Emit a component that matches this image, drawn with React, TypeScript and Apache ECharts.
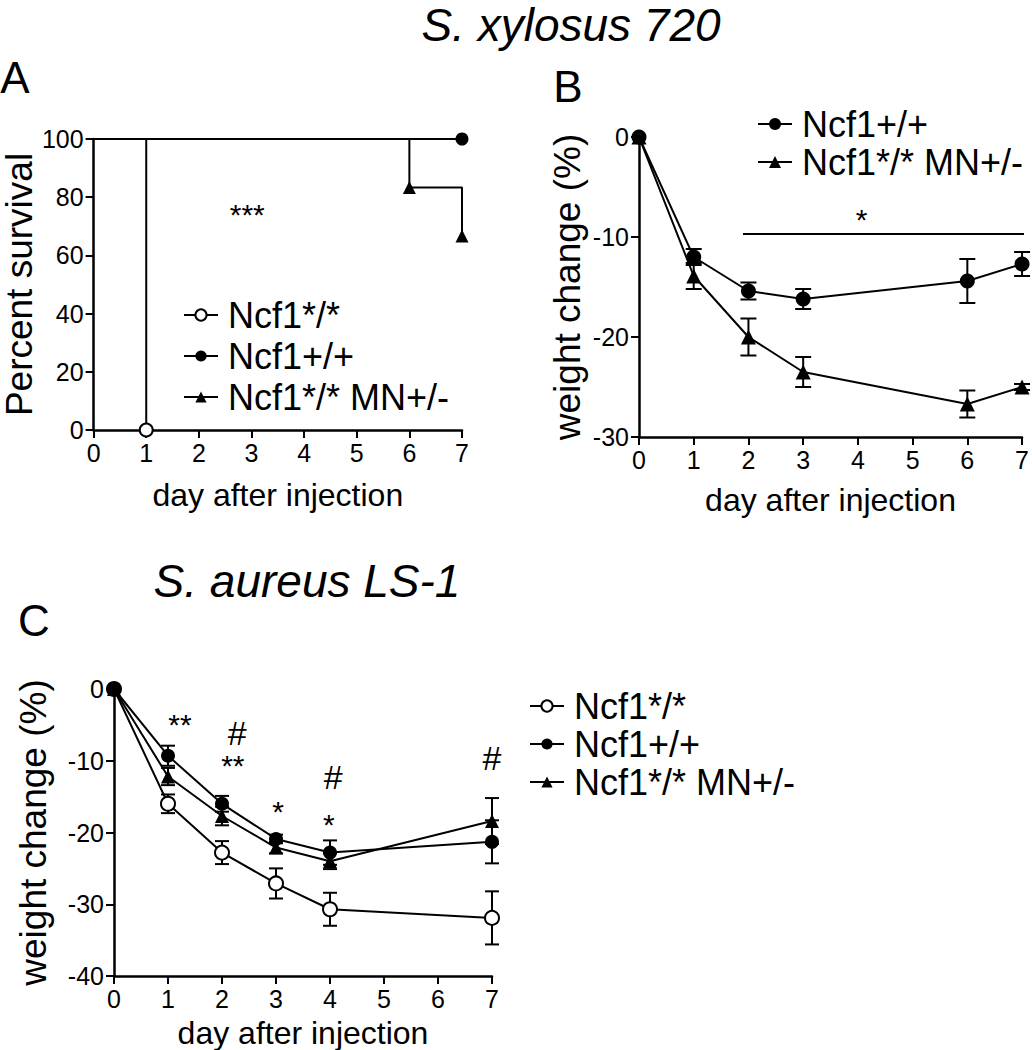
import React, { useEffect, useRef } from 'react';
import * as echarts from 'echarts';

const FONT = '"Liberation Sans", Arial, Helvetica, sans-serif';

// ---------- Panel A: survival (S. xylosus 720) ----------
const A_KO_DAYS = [0, 1];
const A_KO_SURV = [100, 0];
const A_WT_DAYS = [0, 7];
const A_WT_SURV = [100, 100];
const A_MN_DAYS = [0, 6, 7];
const A_MN_SURV = [100, 83.3, 66.7];
const A_Y_TICKS = { min: 0, max: 100, interval: 20 };
const A_ANNOT = [{ x: 2.92, y: 76.3, text: '***' }];

// ---------- Panel B: weight change (S. xylosus 720) ----------
const B_DAYS = [0, 1, 2, 3, 6, 7];
const B_WT_MEAN = [0, -12.0, -15.4, -16.2, -14.4, -12.7];
const B_WT_SEM = [0, 0.8, 0.85, 1.0, 2.2, 1.2];
const B_MN_MEAN = [0, -13.9, -20.0, -23.5, -26.7, -25.0];
const B_MN_SEM = [0, 1.3, 1.85, 1.5, 1.35, 0.3];
const B_SIG_X = [1.9, 7.05];
const B_SIG_Y = -9.7;
const B_ANNOT = [{ x: 4.07, y: -7.6, text: '*' }];
const B_Y_TICKS = { min: -30, max: 0, interval: 10 };

// ---------- Panel C: weight change (S. aureus LS-1) ----------
const C_DAYS = [0, 1, 2, 3, 4, 7];
const C_KO_MEAN = [0, -16.0, -22.8, -27.1, -30.7, -31.9];
const C_KO_SEM = [0, 1.3, 1.6, 2.1, 2.3, 3.7];
const C_WT_MEAN = [0, -9.3, -16.0, -20.9, -22.8, -21.3];
const C_WT_SEM = [0, 1.4, 1.1, 0.6, 1.7, 3.0];
const C_MN_MEAN = [0, -12.2, -17.7, -22.1, -24.0, -18.4];
const C_MN_SEM = [0, 1.2, 1.3, 0.8, 1.1, 3.2];
const C_Y_TICKS = { min: -40, max: 0, interval: 10 };
const C_ANNOT = [
  { x: 1.22, y: -4.0, text: '**' },
  { x: 2.28, y: -6.1, text: '#' },
  { x: 2.2, y: -9.8, text: '**' },
  { x: 3.04, y: -16.1, text: '*' },
  { x: 4.06, y: -12.2, text: '#' },
  { x: 3.98, y: -17.9, text: '*' },
  { x: 7.0, y: -9.6, text: '#' },
];

const X_TICKS = { min: 0, max: 7, interval: 1 };

const NAME_KO = 'Ncf1*/*';
const NAME_WT = 'Ncf1+/+';
const NAME_MN = 'Ncf1*/* MN+/-';

const BLACK = '#000';

function xAxis(gridIndex: number, nameGap: number) {
  return {
    type: 'value',
    gridIndex,
    ...X_TICKS,
    name: 'day after injection',
    nameLocation: 'middle',
    nameGap,
    nameTextStyle: { color: BLACK, fontSize: 32, fontFamily: FONT },
    axisLine: { show: true, onZero: false, lineStyle: { color: BLACK, width: 2.5 } },
    axisTick: { show: true, length: 8, lineStyle: { color: BLACK, width: 2 } },
    axisLabel: { color: BLACK, fontSize: 25, fontFamily: FONT, margin: 10, showMinLabel: true, showMaxLabel: true },
    splitLine: { show: false },
  };
}

function yAxis(gridIndex: number, ticks: any, name: string, nameGap: number) {
  return {
    type: 'value',
    gridIndex,
    ...ticks,
    name,
    nameLocation: 'middle',
    nameGap,
    nameTextStyle: { color: BLACK, fontSize: 37, fontFamily: FONT },
    axisLine: { show: true, onZero: false, lineStyle: { color: BLACK, width: 2.5 } },
    axisTick: { show: true, length: 8, lineStyle: { color: BLACK, width: 2 } },
    axisLabel: { color: BLACK, fontSize: 25, fontFamily: FONT, margin: 10, showMinLabel: true, showMaxLabel: true },
    splitLine: { show: false },
  };
}

function errorBars(axisIndex: number, days: number[], mean: number[], sem: number[], capW: number) {
  return {
    type: 'custom',
    name: '_err',
    xAxisIndex: axisIndex,
    yAxisIndex: axisIndex,
    z: 2,
    silent: true,
    encode: { x: 0, y: 1 },
    data: days.map((d, i) => [d, mean[i], sem[i]]),
    renderItem: (params: any, api: any) => {
      const x = api.value(0);
      const m = api.value(1);
      const s = api.value(2);
      if (!s) return null;
      const top = api.coord([x, m + s]);
      const bot = api.coord([x, m - s]);
      const w = capW / 2;
      const st = { stroke: BLACK, lineWidth: 2 };
      return {
        type: 'group',
        children: [
          { type: 'line', shape: { x1: top[0], y1: top[1], x2: bot[0], y2: bot[1] }, style: st },
          { type: 'line', shape: { x1: top[0] - w, y1: top[1], x2: top[0] + w, y2: top[1] }, style: st },
          { type: 'line', shape: { x1: bot[0] - w, y1: bot[1], x2: bot[0] + w, y2: bot[1] }, style: st },
        ],
      };
    },
  };
}

function annotations(axisIndex: number, list: { x: number; y: number; text: string }[], starSize: number, hashSize: number) {
  return {
    type: 'custom',
    name: '_annot',
    xAxisIndex: axisIndex,
    yAxisIndex: axisIndex,
    z: 5,
    silent: true,
    clip: false,
    encode: { x: 0, y: 1 },
    data: list.map((a) => [a.x, a.y]),
    renderItem: (params: any, api: any) => {
      const a = list[params.dataIndex];
      const p = api.coord([api.value(0), api.value(1)]);
      const isStar = a.text.indexOf('*') >= 0;
      const fontSize = isStar ? starSize : hashSize;
      return {
        type: 'text',
        x: p[0],
        y: p[1] + (isStar ? fontSize * 0.22 : 0),
        style: {
          text: a.text,
          fontSize,
          fontFamily: FONT,
          fill: BLACK,
          align: 'center',
          verticalAlign: 'middle',
        },
      };
    },
  };
}

function meanLine(name: string, axisIndex: number, days: number[], mean: number[], symbol: string, size: number, open: boolean) {
  return {
    type: 'line',
    name,
    xAxisIndex: axisIndex,
    yAxisIndex: axisIndex,
    z: 3,
    clip: false,
    data: days.map((d, i) => [d, mean[i]]),
    symbol,
    symbolSize: size,
    showSymbol: true,
    showAllSymbol: true,
    itemStyle: open ? { color: '#fff', borderColor: BLACK, borderWidth: 2 } : { color: BLACK, borderColor: BLACK, borderWidth: 0 },
    lineStyle: { color: BLACK, width: 2 },
  };
}

function survLine(name: string, days: number[], surv: number[], symbol: string, size: number, open: boolean, markFrom: number) {
  return {
    type: 'line',
    name,
    xAxisIndex: 0,
    yAxisIndex: 0,
    z: 3,
    clip: false,
    step: 'end',
    symbol,
    symbolSize: size,
    showSymbol: true,
    showAllSymbol: true,
    data: days.map((d, i) => ({ value: [d, surv[i]], symbol: i >= markFrom ? symbol : 'none' })),
    itemStyle: open ? { color: '#fff', borderColor: BLACK, borderWidth: 2 } : { color: BLACK, borderColor: BLACK, borderWidth: 0 },
    lineStyle: { color: BLACK, width: 2 },
  };
}

function legend(names: string[], left: number, top: number, itemGap: number, itemHeight: number) {
  return {
    data: names,
    orient: 'vertical',
    left,
    top,
    itemGap,
    itemWidth: 34,
    itemHeight,
    selectedMode: false,
    padding: 0,
    textStyle: { color: BLACK, fontSize: 36, fontFamily: FONT, padding: [0, 0, 0, 5] },
  };
}

function label(text: string, x: number, y: number, size: number, italic = false) {
  return {
    type: 'text',
    x,
    y,
    silent: true,
    style: {
      text,
      fontSize: size,
      fontFamily: FONT,
      fontStyle: italic ? 'italic' : 'normal',
      fill: BLACK,
      align: 'center',
      verticalAlign: 'middle',
    },
  };
}

export default function App() {
  const ref = useRef<HTMLDivElement>(null);
  useEffect(() => {
    if (!ref.current) return;
    const chart = echarts.init(ref.current, undefined, { renderer: 'svg' });
    const option: any = {
      animation: false,
      backgroundColor: '#fff',
      grid: [
        { left: 83, top: 139, width: 379, height: 291, containLabel: false },
        { left: 639, top: 137, width: 385, height: 300, containLabel: false },
        { left: 114, top: 689, width: 378, height: 288, containLabel: false },
      ],
      xAxis: [xAxis(0, 49), xAxis(1, 47), xAxis(2, 41)],
      yAxis: [
        yAxis(0, A_Y_TICKS, 'Percent survival', 49),
        yAxis(1, B_Y_TICKS, 'weight change (%)', 53),
        yAxis(2, C_Y_TICKS, 'weight change (%)', 62),
      ],
      legend: [
        legend([NAME_KO, NAME_WT, NAME_MN], 183, 297, 5, 14),
        legend([NAME_WT, NAME_MN], 757, 106, 2, 15),
        legend([NAME_KO, NAME_WT, NAME_MN], 529, 688, 2, 14),
      ],
      graphic: [
        label('S. xylosus 720', 571, 25, 46, true),
        label('S. aureus LS-1', 307, 581, 46, true),
        label('A', 15, 77, 44),
        label('B', 568, 86, 44),
        label('C', 34, 620, 44),
      ],
      series: [
        // Panel A
        survLine(NAME_KO, A_KO_DAYS, A_KO_SURV, 'circle', 13, true, 1),
        survLine(NAME_WT, A_WT_DAYS, A_WT_SURV, 'circle', 13, false, 1),
        survLine(NAME_MN, A_MN_DAYS, A_MN_SURV, 'triangle', 13, false, 1),
        annotations(0, A_ANNOT, 30, 34),
        // Panel B
        errorBars(1, B_DAYS, B_WT_MEAN, B_WT_SEM, 16),
        errorBars(1, B_DAYS, B_MN_MEAN, B_MN_SEM, 16),
        meanLine('B_' + NAME_WT, 1, B_DAYS, B_WT_MEAN, 'circle', 15, false),
        meanLine('B_' + NAME_MN, 1, B_DAYS, B_MN_MEAN, 'triangle', 15, false),
        {
          type: 'line',
          name: '_sig',
          xAxisIndex: 1,
          yAxisIndex: 1,
          clip: false,
          symbol: 'none',
          data: B_SIG_X.map((x) => [x, B_SIG_Y]),
          lineStyle: { color: BLACK, width: 2 },
        },
        annotations(1, B_ANNOT, 30, 34),
        // Panel C
        errorBars(2, C_DAYS, C_KO_MEAN, C_KO_SEM, 14),
        errorBars(2, C_DAYS, C_WT_MEAN, C_WT_SEM, 14),
        errorBars(2, C_DAYS, C_MN_MEAN, C_MN_SEM, 14),
        meanLine('C_' + NAME_KO, 2, C_DAYS, C_KO_MEAN, 'circle', 14, true),
        meanLine('C_' + NAME_WT, 2, C_DAYS, C_WT_MEAN, 'circle', 14, false),
        meanLine('C_' + NAME_MN, 2, C_DAYS, C_MN_MEAN, 'triangle', 14, false),
        annotations(2, C_ANNOT, 30, 34),
      ],
    };
    chart.setOption(option);
    return () => chart.dispose();
  }, []);
  return (
    <div
      ref={ref}
      style={{ position: 'fixed', left: 0, top: 0, width: 1032, height: 1050, background: '#fff' }}
    />
  );
}
